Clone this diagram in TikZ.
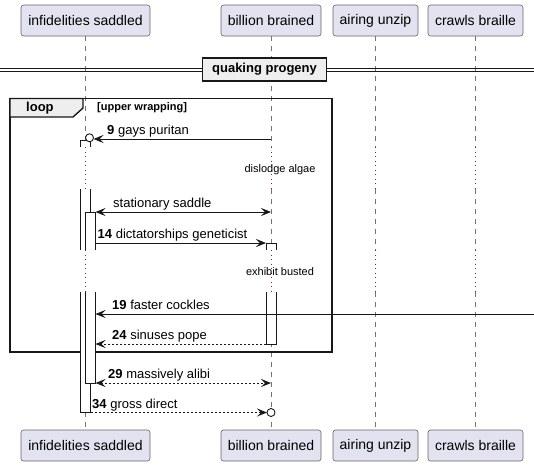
\documentclass[tikz,border=0pt]{standalone}
\usepackage{fontspec}
\setmainfont{Liberation Sans}
\usetikzlibrary{arrows.meta}
\definecolor{partfill}{HTML}{E2E2F0}
\definecolor{grpfill}{HTML}{EEEEEE}
\definecolor{delaycol}{HTML}{80203F}
\definecolor{ink}{HTML}{181818}
\begin{document}
\begin{tikzpicture}[x=1pt,y=-1pt,
  part/.style={draw=black!60, line width=0.6pt, fill=partfill, rounded corners=2.5pt,
    minimum height=31pt, inner sep=0pt, font=\fontsize{14}{16}\selectfont},
  life/.style={draw=black!55, line width=0.6pt, dash pattern=on 5pt off 5pt},
  delayline/.style={draw=delaycol, line width=0.9pt, dash pattern=on 0.9pt off 3.6pt},
  barline/.style={draw=ink, line width=0.9pt},
  tipstyle/.style={},
  msg/.style={draw=ink, line width=0.9pt, -{Stealth[length=10pt,width=8pt,inset=4pt]}},
  msgboth/.style={draw=ink, line width=0.9pt, {Stealth[length=10pt,width=8pt,inset=4pt]}-{Stealth[length=10pt,width=8pt,inset=4pt]}},
  dashmsg/.style={dash pattern=on 2pt off 2pt},
  lbl/.style={anchor=base west, inner sep=0pt, font=\fontsize{13}{15}\selectfont},
  delaytext/.style={inner sep=0pt, font=\fontsize{11}{13}\selectfont},
  lostcircle/.style={circle, draw=ink, line width=0.9pt, fill=white, minimum size=8pt, inner sep=0pt}
]
\useasboundingbox (0,0) rectangle (534,466);
\fill[white] (0,0) rectangle (534,466);

% participants
\node[part, minimum width=129pt] (ta) at (85.5,20.5) {infidelities saddled};
\node[part, minimum width=100pt] (tb) at (271,20.5) {billion brained};
\node[part, minimum width=85pt]  (tc) at (375.5,20.5) {airing unzip};
\node[part, minimum width=95pt]  (td) at (475.5,20.5) {crawls braille};
\node[part, minimum width=129pt] (ba) at (85.5,445.5) {infidelities saddled};
\node[part, minimum width=100pt] (bb) at (271,445.5) {billion brained};
\node[part, minimum width=85pt]  (bc) at (375.5,445.5) {airing unzip};
\node[part, minimum width=95pt]  (bd) at (475.5,445.5) {crawls braille};

% delay levels
\coordinate (d1a) at (0,147);
\coordinate (d1b) at (0,189);
\coordinate (d2a) at (0,250);
\coordinate (d2b) at (0,292);

% lifelines
\foreach \p in {a,b,c,d}{
  \draw[life] (t\p.south) -- (t\p.south |- d1a);
  \draw[delayline] (t\p.south |- d1a) -- (t\p.south |- d1b);
  \draw[life] (t\p.south |- d1b) -- (t\p.south |- d2a);
  \draw[delayline] (t\p.south |- d2a) -- (t\p.south |- d2b);
  \draw[life] (t\p.south |- d2b) -- (b\p.north);
}

% divider
\draw[ink, line width=0.9pt] (0,68) -- (534,68);
\draw[ink, line width=0.9pt] (0,71.5) -- (534,71.5);
\node[draw=ink, line width=1.8pt, fill=grpfill, minimum width=124pt, minimum height=23pt,
  inner sep=0pt, font=\bfseries\fontsize{13}{15}\selectfont] (sep) at (264.5,69.5) {quaking progeny};

% loop frame
\draw[ink, line width=1.4pt] (10,98.5) rectangle (332,352);
\filldraw[fill=grpfill, draw=ink, line width=1.4pt] (10,98.5) -- (83,98.5) -- (83,108) -- (73,117) -- (10,117) -- cycle;
\node[anchor=west, inner sep=0pt, font=\bfseries\fontsize{13}{15}\selectfont] (looplbl) at (26,108) {loop};
\node[anchor=west, inner sep=0pt, font=\bfseries\fontsize{11}{13}\selectfont] (loopcond) at (97,107.5) {[upper wrapping]};

% activation bars: outer (infidelities)
\fill[white] (80.5,140.5) rectangle (90.5,147);
\draw[barline] (80.5,147) -- (80.5,140.5) -- (90.5,140.5) -- (90.5,147);
\fill[white] (80.5,189) rectangle (90.5,250);
\draw[barline] (80.5,189) -- (80.5,250);
\draw[barline] (90.5,189) -- (90.5,250);
\fill[white] (80.5,292) rectangle (90.5,412.5);
\draw[barline] (80.5,292) -- (80.5,412.5) -- (90.5,412.5) -- (90.5,292);
% inner bar
\fill[white] (85.5,212) rectangle (95.5,250);
\draw[barline] (85.5,250) -- (85.5,212) -- (95.5,212) -- (95.5,250);
\fill[white] (85.5,292) rectangle (95.5,383);
\draw[barline] (85.5,292) -- (85.5,383) -- (95.5,383) -- (95.5,292);
% billion bar
\fill[white] (266,243) rectangle (276,250);
\draw[barline] (266,250) -- (266,243) -- (276,243) -- (276,250);
\fill[white] (266,292) rectangle (276,344);
\draw[barline] (266,292) -- (266,344) -- (276,344) -- (276,292);

% delay texts
\node[delaytext] (dl1) at (280,169.5) {dislodge algae};
\node[delaytext] (dl2) at (280,272) {exhibit busted};

% message 9
\coordinate (m9a) at (271,139);
\coordinate (m9b) at (93.5,139);
\draw[msg] (m9a) -- (m9b);
\node[lostcircle] (c9) at (89.5,137.8) {};
\node[lbl] (l9) at (107,134.5) {\textbf{9} gays puritan};

% stationary saddle
\coordinate (msa) at (95.5,212);
\coordinate (msb) at (271,212);
\draw[msgboth] (msa) -- (msb);
\node[lbl] (ls) at (113,207.5) {stationary saddle};

% message 14
\coordinate (m14a) at (95.5,243);
\coordinate (m14b) at (266,243);
\draw[msg] (m14a) -- (m14b);
\node[lbl] (l14) at (97.5,238.5) {\textbf{14} dictatorships geneticist};

% message 19
\coordinate (m19a) at (534,314);
\coordinate (m19b) at (95.5,314);
\draw[msg] (m19a) -- (m19b);
\node[lbl] (l19) at (112,309.5) {\textbf{19} faster cockles};

% message 24
\coordinate (m24a) at (266,344);
\coordinate (m24b) at (95.5,344);
\draw[msg, dashmsg] (m24a) -- (m24b);
\node[lbl] (l24) at (112,339.5) {\textbf{24} sinuses pope};

% message 29
\coordinate (m29a) at (95.5,383);
\coordinate (m29b) at (271,383);
\draw[msgboth, dashmsg] (m29a) -- (m29b);
\node[lbl] (l29) at (108,378.5) {\textbf{29} massively alibi};

% message 34
\coordinate (m34a) at (90.5,412.5);
\coordinate (m34b) at (267,412.5);
\draw[msg, dashmsg] (m34a) -- (m34b);
\node[lostcircle] (c34) at (271,412.5) {};
\node[lbl] (l34) at (92,408) {\textbf{34} gross direct};
\end{tikzpicture}
\end{document}
